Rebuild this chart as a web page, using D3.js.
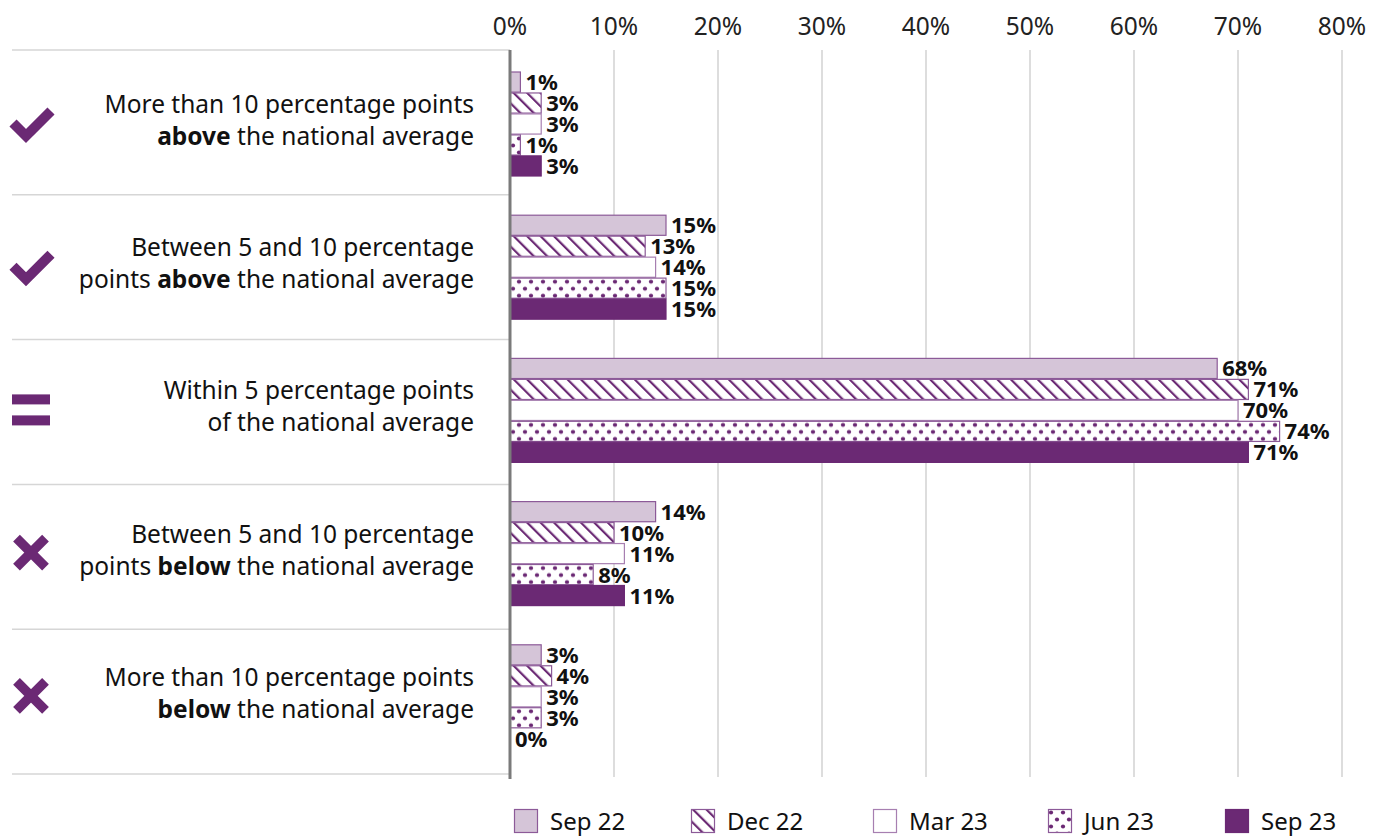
<!DOCTYPE html>
<html>
<head>
<meta charset="utf-8">
<script src="https://cdn.jsdelivr.net/npm/d3@7"></script>
<style>
  body { margin: 0; background: #fff; }
  svg { display: block; font-family: "Noto Sans", sans-serif; }
</style>
</head>
<body>
<svg id="chart" width="1386" height="836"></svg>
<script>
// Categories (label lines: [text, bold])
const categories = ['above10', 'above5', 'within5', 'below5', 'below10'];
const categoryLines = [
  [[['More than 10 percentage points', false]], [['above', true], [' the national average', false]]],
  [[['Between 5 and 10 percentage', false]], [['points ', false], ['above', true], [' the national average', false]]],
  [[['Within 5 percentage points', false]], [['of the national average', false]]],
  [[['Between 5 and 10 percentage', false]], [['points ', false], ['below', true], [' the national average', false]]],
  [[['More than 10 percentage points', false]], [['below', true], [' the national average', false]]]
];
const categoryIcons = ['check', 'check', 'equals', 'cross', 'cross'];

// Series
const seriesNames = ['Sep 22', 'Dec 22', 'Mar 23', 'Jun 23', 'Sep 23'];
const sep22 = [1, 15, 68, 14, 3];
const dec22 = [3, 13, 71, 10, 4];
const mar23 = [3, 14, 70, 11, 3];
const jun23 = [1, 15, 74, 8, 3];
const sep23 = [3, 15, 71, 11, 0];
const seriesValues = [sep22, dec22, mar23, jun23, sep23];

const xTicks = [0, 10, 20, 30, 40, 50, 60, 70, 80];

const purple = '#6b2974';
const lineP = '#8c5a98';

const svg = d3.select('#chart');
const defs = svg.append('defs');

// Patterns
const hatch = defs.append('pattern')
  .attr('id', 'hatch').attr('patternUnits', 'userSpaceOnUse')
  .attr('width', 9.5).attr('height', 9.5)
  .attr('patternTransform', 'rotate(-45)');
hatch.append('rect').attr('width', 9.5).attr('height', 9.5).attr('fill', '#fff');
hatch.append('line').attr('x1', 0).attr('y1', 0).attr('x2', 0).attr('y2', 9.5)
  .attr('stroke', purple).attr('stroke-width', 4.4);

const dots = defs.append('pattern')
  .attr('id', 'dots').attr('patternUnits', 'userSpaceOnUse')
  .attr('width', 12).attr('height', 14);
dots.append('rect').attr('width', 12).attr('height', 14).attr('fill', '#fff');
[[3, 3.5], [9, 10.5]].forEach(p => {
  dots.append('circle').attr('cx', p[0]).attr('cy', p[1]).attr('r', 2.1).attr('fill', purple);
});

const fills = ['#d5c5d8', 'url(#hatch)', '#fff', 'url(#dots)', purple];
const strokes = [lineP, lineP, '#a77fb1', lineP, purple];

// Scales
const x = d3.scaleLinear().domain([0, 80]).range([510, 1342]);
const y = d3.scaleBand().domain(categories).range([50, 774]);
const yBars = d3.scaleBand().domain(categories).range([51, 767]);
const yInner = d3.scaleBand().domain(seriesNames).range([21, 125]).paddingInner(0.04);

// Gridlines
svg.append('g').selectAll('line').data(xTicks.slice(1)).join('line')
  .attr('x1', d => x(d)).attr('x2', d => x(d))
  .attr('y1', 50).attr('y2', 777)
  .attr('stroke', '#d2d2d2').attr('stroke-width', 1.5);

// Tick labels
svg.append('g').selectAll('text').data(xTicks).join('text')
  .attr('x', d => x(d)).attr('y', 35)
  .attr('text-anchor', 'middle')
  .attr('font-size', 24.5).attr('fill', '#222')
  .text(d => d + '%');

// Separators
const seps = categories.map(c => y(c)).concat([y.range()[1]]);
svg.append('g').selectAll('line').data(seps).join('line')
  .attr('x1', 12).attr('x2', 510)
  .attr('y1', d => d).attr('y2', d => d)
  .attr('stroke', '#d6d6d6').attr('stroke-width', 1.5);

// Bars
const groups = svg.append('g').selectAll('g').data(categories).join('g')
  .attr('transform', c => `translate(0,${yBars(c)})`);

groups.each(function (c, ci) {
  const g = d3.select(this);
  seriesNames.forEach((s, si) => {
    const v = seriesValues[si][ci];
    const by = yInner(s);
    const bh = yInner.bandwidth();
    if (v > 0) {
      g.append('rect')
        .attr('x', x(0)).attr('y', by)
        .attr('width', x(v) - x(0)).attr('height', bh)
        .attr('fill', fills[si])
        .attr('stroke', strokes[si]).attr('stroke-width', 1.2);
    }
    g.append('text')
      .attr('x', x(v) + 5).attr('y', by + bh / 2 + 8)
      .attr('font-size', 22).attr('font-weight', 'bold').attr('fill', '#111')
      .text(v + '%');
  });

  // Category label
  const lines = categoryLines[ci];
  const base = 62;
  lines.forEach((parts, li) => {
    const t = g.append('text')
      .attr('x', 474).attr('y', base + li * 32)
      .attr('text-anchor', 'end')
      .attr('font-size', 24.5).attr('fill', '#111');
    parts.forEach(p => {
      t.append('tspan').attr('font-weight', p[1] ? 'bold' : 'normal').text(p[0]);
    });
  });

  // Icon
  const icon = categoryIcons[ci];
  const ic = g.append('g').attr('transform', `translate(31,${base + 10})`);
  if (icon === 'check') {
    ic.append('path').attr('d', 'M-18,0 L-5,13 L20,-12')
      .attr('fill', 'none').attr('stroke', purple).attr('stroke-width', 10)
      .attr('stroke-linejoin', 'miter');
  } else if (icon === 'equals') {
    ic.append('rect').attr('x', -19).attr('y', -15).attr('width', 38).attr('height', 10).attr('fill', purple);
    ic.append('rect').attr('x', -19).attr('y', 6).attr('width', 38).attr('height', 10).attr('fill', purple);
  } else {
    ic.append('path').attr('d', 'M-14.5,-14.5 L14.5,14.5 M14.5,-14.5 L-14.5,14.5')
      .attr('fill', 'none').attr('stroke', purple).attr('stroke-width', 9.5);
  }
});

// Axis line at zero
svg.append('line')
  .attr('x1', x(0)).attr('x2', x(0))
  .attr('y1', 50).attr('y2', 779)
  .attr('stroke', '#7a7a7a').attr('stroke-width', 3);

// Legend
const legendX = [514, 691, 873, 1048, 1225];
const legend = svg.append('g').selectAll('g').data(seriesNames).join('g')
  .attr('transform', (d, i) => `translate(${legendX[i]},809)`);
legend.append('rect')
  .attr('x', 0.5).attr('y', 0.5).attr('width', 23).attr('height', 23)
  .attr('fill', (d, i) => fills[i]).attr('stroke', (d, i) => strokes[i]).attr('stroke-width', 1.2);
legend.append('text')
  .attr('x', 36).attr('y', 21)
  .attr('font-size', 24).attr('fill', '#111')
  .text(d => d);
</script>
</body>
</html>
